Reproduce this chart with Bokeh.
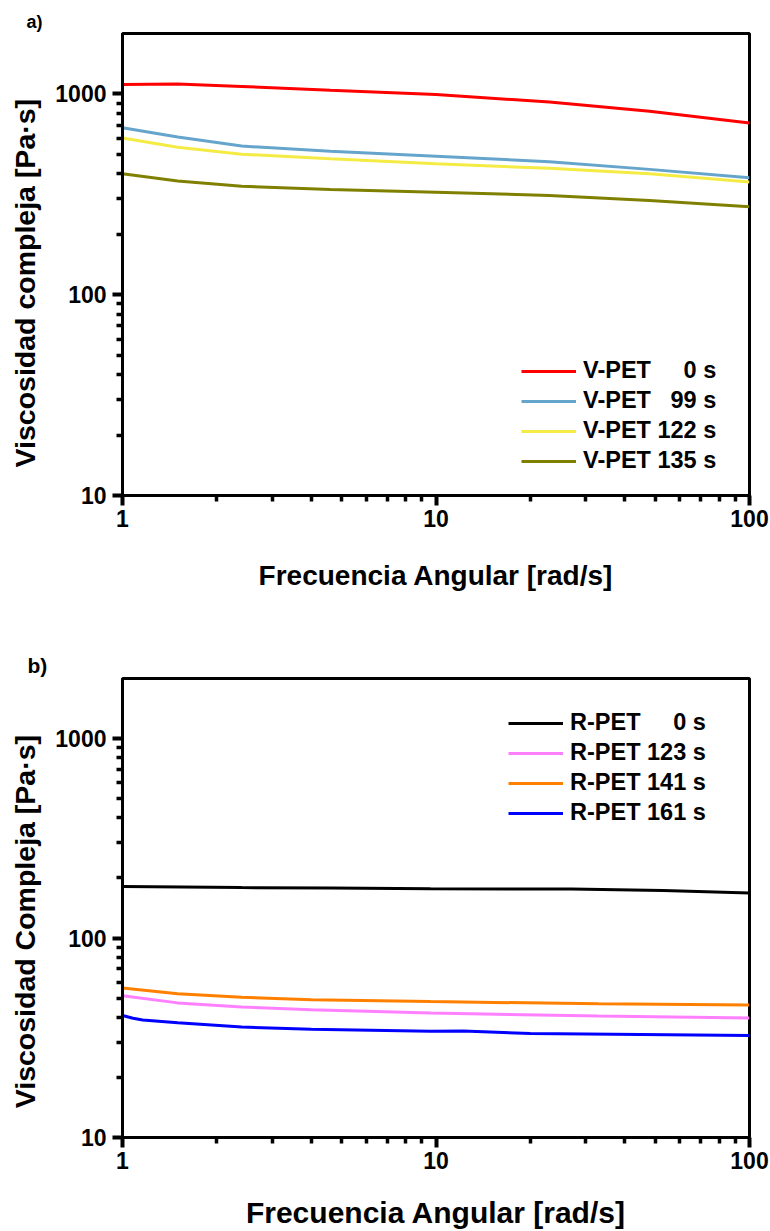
from bokeh.plotting import figure
from bokeh.models import Range1d, FixedTicker, Legend, LegendItem, Title
from bokeh.layouts import column
from bokeh.embed import file_html
from bokeh.resources import INLINE

FONT = "Liberation Sans"
FS = "\u2007"  # figure space (digit width)
TS = "\u2009"  # thin space

# ---- axes ----
x_ticks = [1, 10, 100]
x_tick_labels = ["1", "10", "100"]
x_minor = [2, 3, 4, 5, 6, 7, 8, 9, 20, 30, 40, 50, 60, 70, 80, 90]
y_ticks = [10, 100, 1000]
y_tick_labels = ["10", "100", "1000"]
y_minor = [20, 30, 40, 50, 60, 70, 80, 90, 200, 300, 400, 500, 600, 700, 800, 900]

# ---- panel a: V-PET ----
a_freq = [1, 1.5, 2.4, 4.6, 10, 23, 48, 100]
a_0s = [1114, 1121, 1090, 1043, 993, 912, 820, 717]
a_99s = [678, 610, 550, 519, 490, 459, 421, 382]
a_122s = [604, 543, 501, 475, 449, 426, 400, 364]
a_135s = [400, 368, 347, 334, 324, 312, 295, 274]
a_labels = ["V-PET " + FS + FS + "0 s", "V-PET " + FS + "99 s", "V-PET 122 s", "V-PET 135 s"]
a_colors = ["#FF0000", "#65A5CC", "#F5EB45", "#808000"]

# ---- panel b: R-PET ----
b0_freq = [1, 2.4, 4.6, 9.6, 27, 53, 100]
b_0s = [181, 179, 178, 176.5, 176, 173, 168]
b_freq = [1, 1.5, 2.4, 4.0, 9.6, 33, 100]
b_141s = [56.2, 52.5, 50.5, 49.1, 48.0, 46.8, 46.1]
b_123s = [51.4, 47.3, 45.1, 43.7, 42.1, 40.6, 39.7]
b161_freq = [1, 1.08, 1.16, 1.5, 2.4, 4.0, 9.6, 12.2, 20, 100]
b_161s = [40.9, 39.6, 38.8, 37.6, 35.8, 34.9, 34.1, 34.2, 33.2, 32.5]
b_labels = ["R-PET " + FS + FS + "0 s", "R-PET 123 s", "R-PET 141 s", "R-PET 161 s"]
b_colors = ["#000000", "#FF80FF", "#FF8000", "#0000FF"]


def make_fig(height, top, bottom, ylabel, xfs, yfs, x_standoff, y_standoff):
    p = figure(width=770, height=height, x_axis_type="log", y_axis_type="log",
               x_range=Range1d(1, 100), y_range=Range1d(10, 2000),
               output_backend="svg", toolbar_location=None,
               min_border_left=122, min_border_right=21,
               min_border_top=top, min_border_bottom=bottom)
    p.grid.visible = False
    p.outline_line_color = "black"
    p.outline_line_width = 3
    p.outline_line_alpha = 1
    for ax, ticks, minor, labels in ((p.xaxis[0], x_ticks, x_minor, x_tick_labels),
                                     (p.yaxis[0], y_ticks, y_minor, y_tick_labels)):
        ax.ticker = FixedTicker(ticks=ticks, minor_ticks=minor)
        ax.major_label_overrides = {t: l for t, l in zip(ticks, labels)}
        ax.axis_line_width = 3
        ax.axis_line_color = "black"
        ax.major_tick_line_color = "black"
        ax.minor_tick_line_color = "black"
        ax.major_tick_line_width = 4
        ax.minor_tick_line_width = 3.5
        ax.major_tick_in = 0
        ax.minor_tick_in = 0
        ax.major_tick_out = 10
        ax.minor_tick_out = 6
        ax.major_label_text_font = FONT
        ax.major_label_text_font_style = "bold"
        ax.major_label_text_font_size = "23px"
        ax.major_label_text_color = "black"
        ax.axis_label_text_font = FONT
        ax.axis_label_text_font_style = "bold"
        ax.axis_label_text_color = "black"
    p.xaxis.axis_label = "Frecuencia Angular [rad/s]"
    p.yaxis.axis_label = ylabel
    p.xaxis.axis_label_text_font_size = xfs
    p.yaxis.axis_label_text_font_size = yfs
    p.xaxis.major_label_standoff = 4
    p.xaxis.axis_label_standoff = x_standoff
    p.yaxis.major_label_standoff = 6
    p.yaxis.axis_label_standoff = y_standoff
    return p


def style_legend(p, items, loc):
    lg = Legend(items=items, location=loc, padding=0, margin=0,
                border_line_color=None, background_fill_alpha=0,
                label_text_font=FONT, label_text_font_style="bold",
                label_text_font_size="23.5px", label_text_color="black",
                glyph_width=55, glyph_height=20, label_height=20,
                spacing=3, label_standoff=7)
    p.add_layout(lg)


def panel_tag(p, text, size, offset):
    p.add_layout(Title(text=text, align="left", offset=offset, standoff=3,
                       text_font=FONT, text_font_style="bold",
                       text_font_size=size, text_color="black"), "above")


# ---- figure a ----
pa = make_fig(608, 33, 113, "Viscosidad compleja [Pa·s]" + FS + FS + TS,
              "28px", "28.5px", 30, 11)
items = []
for ys, col, lab in zip([a_0s, a_99s, a_122s, a_135s], a_colors, a_labels):
    r = pa.line(a_freq, ys, line_color=col, line_width=3)
    items.append(LegendItem(label=lab, renderers=[r]))
style_legend(pa, items, (399, 21))
panel_tag(pa, "a)", "18px", -96)

# ---- figure b ----
pb = make_fig(623, 70, 91, "Viscosidad Compleja [Pa·s]" + FS + TS + TS,
              "30px", "28.5px", 24, 11)
items = []
series = [(b0_freq, b_0s), (b_freq, b_123s), (b_freq, b_141s), (b161_freq, b_161s)]
for (xs, ys), col, lab in zip(series, b_colors, b_labels):
    r = pb.line(xs, ys, line_color=col, line_width=3)
    items.append(LegendItem(label=lab, renderers=[r]))
style_legend(pb, items, (386, 311))
panel_tag(pb, "b)", "21px", -95)

layout = column(pa, pb)
open("out.html", "w").write(file_html(layout, INLINE))
